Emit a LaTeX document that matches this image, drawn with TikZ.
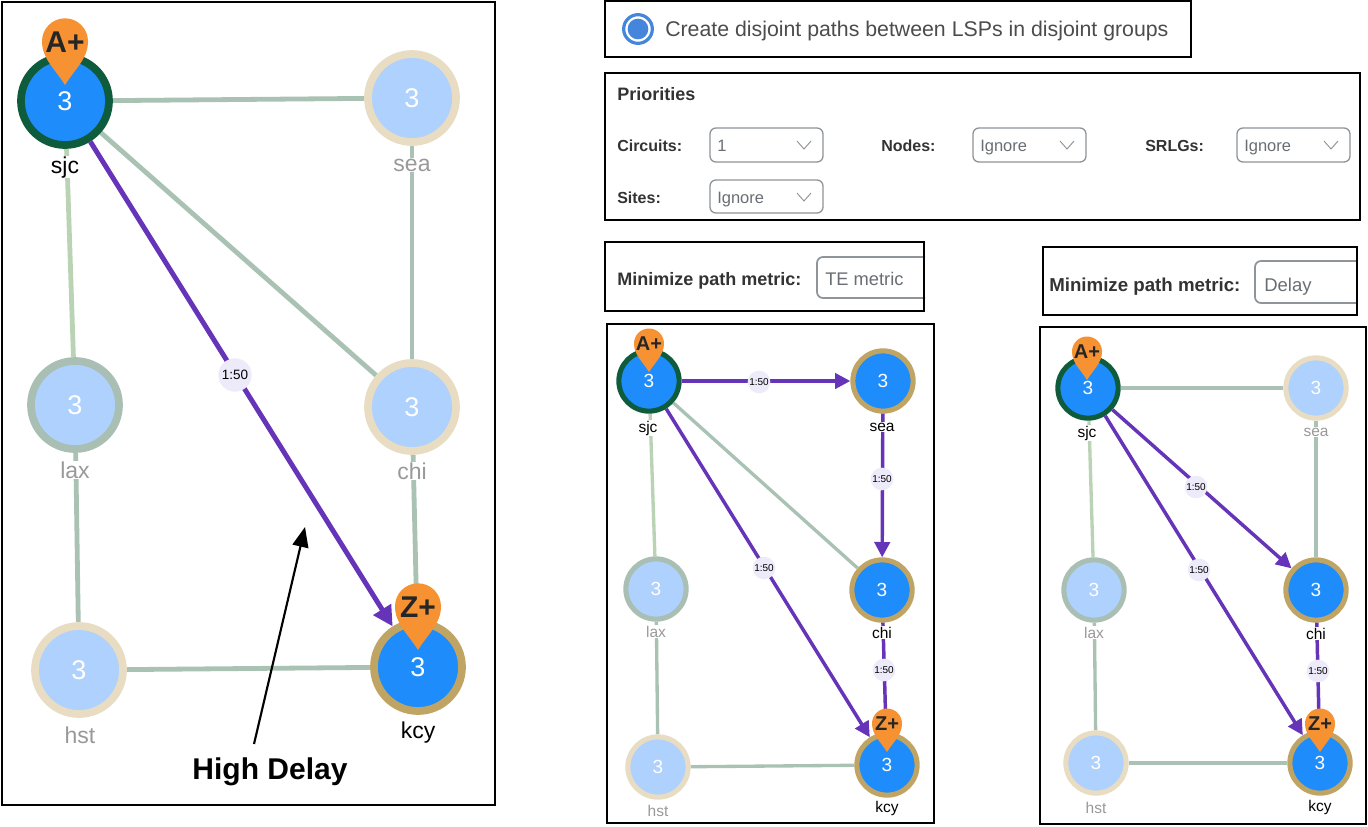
\documentclass[tikz,border=0pt]{standalone}
\usepackage{fontspec}
\setmainfont{Liberation Sans}
\usetikzlibrary{arrows.meta,backgrounds,calc}
\definecolor{hub}{HTML}{1E8CFB}
\definecolor{pale}{HTML}{AFD1FD}
\definecolor{ringg}{HTML}{0F5C3C}
\definecolor{ringt}{HTML}{C0A463}
\definecolor{ringb}{HTML}{E8DDC3}
\definecolor{ringl}{HTML}{A9BFB3}
\definecolor{linkc}{HTML}{A9C2B4}
\definecolor{linkl}{HTML}{BAD3B5}
\definecolor{lsp}{HTML}{6534B8}
\definecolor{pinc}{HTML}{F79232}
\definecolor{badge}{HTML}{EDEBFA}
\definecolor{uitext}{HTML}{6A6E74}
\definecolor{uiline}{HTML}{8F9499}
\definecolor{radio}{HTML}{4585DC}
\newcommand{\fpx}[1]{\fontsize{\dimexpr#1pt*3/4\relax}{\dimexpr#1pt*9/10\relax}\selectfont}
\tikzset{
  x=0.75pt,y=-0.75pt,
  frame/.style={draw=black,line width=1.5pt,fill=none},
  bigr/.style={circle,minimum size=66pt,line width=5.8pt,inner sep=0pt,text=white,font=\fpx{27}},
  smallr/.style={circle,minimum size=45.2pt,line width=3.8pt,inner sep=0pt,text=white,font=\fpx{19}},
  act/.style={fill=hub},
  fad/.style={fill=pale},
  biglab/.style={font=\fpx{23},inner sep=0.5pt,fill=white,anchor=base},
  smalllab/.style={font=\fpx{15.5},inner sep=0.5pt,fill=white,anchor=base},
  dim/.style={text=black!40},
  bigl/.style={line width=3.6pt,draw=linkc},
  smalll/.style={line width=2.5pt,draw=linkc},
  biga/.style={line width=3.7pt,draw=lsp,-{Triangle[length=15pt,width=15pt,fill=lsp]}},
  smalla/.style={line width=2.6pt,draw=lsp,-{Triangle[length=11.5pt,width=11.5pt,fill=lsp]}},
  bigb/.style={circle,fill=badge,inner sep=0pt,minimum size=25pt,font=\fpx{13.5}},
  smallb/.style={circle,fill=badge,inner sep=0pt,minimum size=17pt,font=\fpx{10}},
  uibold/.style={anchor=base west,inner sep=0pt,font=\bfseries\fpx{16},text=black!80},
  uival/.style={anchor=base west,inner sep=0pt,font=\fpx{16.5},text=uitext},
  drop/.style={draw=uiline,line width=1pt,rounded corners=4.5pt},
  chev/.style={draw=uiline,line width=0.7pt},
}
% pin: name, x, y of tip, radius, text, font size
\newcommand{\pin}[6]{%
  \fill[pinc] (#2,#3) .. controls (#2-0.45*#4,#3-0.72*#4) and (#2-#4,#3-1.15*#4) .. (#2-#4,#3-1.9*#4)
     arc[start angle=180,end angle=0,radius=#4*0.75pt]
     .. controls (#2+#4,#3-1.15*#4) and (#2+0.45*#4,#3-0.72*#4) .. (#2,#3) -- cycle;
  \node[inner sep=0pt,text=black!85,font=\bfseries\fpx{#6}] (#1) at (#2,#3-1.87*#4) {#5};
}
% chevron centred at x,y
\newcommand{\chevron}[2]{\draw[chev] (#1-7,#2-4) -- (#1,#2+4) -- (#1+7,#2-4);}
\begin{document}
\begin{tikzpicture}
\useasboundingbox (0,0) rectangle (1368,826);
\begin{scope}[on background layer]
  \fill[white] (0,0) rectangle (1368,826);
\end{scope}

% ---------- panel 1
\node[bigr,act,draw=ringg] (as) at (65,101) {3};
\node[bigr,fad,draw=ringb] (ae) at (412,98) {3};
\node[bigr,fad,draw=ringl] (al) at (75,405) {3};
\node[bigr,fad,draw=ringb] (ac) at (412,407) {3};
\node[bigr,fad,draw=ringb] (ah) at (79,670) {3};
\node[bigr,act,draw=ringt] (ak) at (418,667) {3};
\begin{scope}[on background layer]
  \draw[bigl] (as) -- (ae);
  \draw[bigl] (as) -- (ac);
  \draw[bigl,draw=linkl] (as) -- (al);
  \draw[bigl] (ae) -- (ac);
  \draw[bigl] (al) -- (ah);
  \draw[bigl] (ac) -- (ak);
  \draw[bigl] (ah) -- (ak);
\end{scope}
\draw[biga] (as) -- (ak);
\node[bigb] (ab) at (235,375) {1:50};
\node[biglab] (asl) at (65,173) {sjc};
\node[biglab,dim] (ael) at (412,171) {sea};
\node[biglab,dim] (all) at (75,478) {lax};
\node[biglab,dim] (acl) at (412,479) {chi};
\node[biglab,dim] (ahl) at (80,743) {hst};
\node[biglab] (akl) at (418,738) {kcy};
\pin{apa}{65}{85}{23}{A+}{30}
\pin{apz}{418}{650}{23}{Z+}{30}
\node[font=\bfseries\fpx{30}] (hd) at (270,772) {High Delay};
\coordinate (hdfrom) at (254,744);
\coordinate (hdto) at (305,527);
\draw[line width=1.6pt,-{Triangle[length=15pt,width=12pt]}] (hdfrom) -- (hdto);
\draw[frame] (2,2) rectangle (495,805);

% ---------- top widgets
\draw[frame] (605,1) rectangle (1191,57);
\node[circle,draw=radio,line width=2.4pt,fill=white,minimum size=21.5pt,inner sep=0pt] (rad) at (638,29) {};
\node[circle,fill=radio,minimum size=15.5pt,inner sep=0pt] (radi) at (rad) {};
\node[anchor=base west,inner sep=0pt,font=\fpx{21.3},text=black!70] (rt) at (665,36) {Create disjoint paths between LSPs in disjoint groups};

\draw[frame] (605,73) rectangle (1360,220);
\node[uibold,font=\bfseries\fpx{18}] (pt) at (617,100) {Priorities};
\node[uibold] (lc) at (617,151) {Circuits:};
\node[uibold] (ln) at (881,151) {Nodes:};
\node[uibold] (lr) at (1145,151) {SRLGs:};
\node[uibold] (ls) at (617,203) {Sites:};
\draw[drop] (710,128) rectangle (823,162);
\draw[drop] (973,128) rectangle (1086,162);
\draw[drop] (1237,128) rectangle (1350,162);
\draw[drop] (710,180) rectangle (823,213);
\node[uival] (v1) at (717,151) {1};
\node[uival] (v2) at (980,151) {Ignore};
\node[uival] (v3) at (1244,151) {Ignore};
\node[uival] (v4) at (717,203) {Ignore};
\chevron{804}{145}
\chevron{1067}{145}
\chevron{1331}{145}
\chevron{804}{197}

\draw[drop,line width=1.3pt] (925,257) -- (817,257) -- (817,298) -- (925,298);
\node[uibold,font=\bfseries\fpx{18}] (m1) at (617,285) {Minimize path metric:};
\node[uival,font=\fpx{18.3}] (m1v) at (825,285) {TE metric};
\draw[frame] (605,242) rectangle (924,311);

\draw[drop,line width=1.3pt] (1357,261) -- (1255,261) -- (1255,303) -- (1357,303);
\node[uibold,font=\bfseries\fpx{18.7}] (m2) at (1049,291) {Minimize path metric:};
\node[uival,font=\fpx{18.5}] (m2v) at (1264,291) {Delay};
\draw[frame] (1043,247) rectangle (1357,315);

% ---------- panel 2
\node[smallr,act,draw=ringg] (bs) at (649,381) {3};
\node[smallr,act,draw=ringt] (be) at (883,381) {3};
\node[smallr,fad,draw=ringl] (bl) at (656,589) {3};
\node[smallr,act,draw=ringt] (bc) at (882,590) {3};
\node[smallr,fad,draw=ringb] (bh) at (658,767) {3};
\node[smallr,act,draw=ringt] (bk) at (887,765) {3};
\begin{scope}[on background layer]
  \draw[smalll] (bs) -- (bc);
  \draw[smalll,draw=linkl] (bs) -- (bl);
  \draw[smalll] (bl) -- (bh);
  \draw[smalll] (bh) -- (bk);
\end{scope}
\draw[smalla] (bs) -- (be);
\draw[smalla] (be) -- (bc);
\draw[smalla] (bc) -- (bk);
\draw[smalla] (bs) -- (bk);
\node[smallb] (bb1) at (759,382) {1:50};
\node[smallb] (bb2) at (882,479) {1:50};
\node[smallb] (bb3) at (884,670) {1:50};
\node[smallb] (bb4) at (764,568) {1:50};
\node[smalllab] (bsl) at (648,432) {sjc};
\node[smalllab] (bel) at (882,431) {sea};
\node[smalllab,dim] (bll) at (656,637) {lax};
\node[smalllab] (bcl) at (882,638) {chi};
\node[smalllab,dim] (bhl) at (658,816) {hst};
\node[smalllab] (bkl) at (887,812) {kcy};
\pin{bpa}{649}{372}{15}{A+}{20}
\pin{bpz}{887}{752}{15}{Z+}{20}
\draw[frame] (607,324) rectangle (934,823);

% ---------- panel 3
\node[smallr,act,draw=ringg] (cs) at (1088,388) {3};
\node[smallr,fad,draw=ringb] (ce) at (1316,388) {3};
\node[smallr,fad,draw=ringl] (cl) at (1094,590) {3};
\node[smallr,act,draw=ringt] (cc) at (1316,590) {3};
\node[smallr,fad,draw=ringb] (ch) at (1096,763) {3};
\node[smallr,act,draw=ringt] (ck) at (1320,763) {3};
\begin{scope}[on background layer]
  \draw[smalll] (cs) -- (ce);
  \draw[smalll] (ce) -- (cc);
  \draw[smalll,draw=linkl] (cs) -- (cl);
  \draw[smalll] (cl) -- (ch);
  \draw[smalll] (ch) -- (ck);
\end{scope}
\draw[smalla] (cs) -- (cc);
\draw[smalla] (cs) -- (ck);
\draw[smalla] (cc) -- (ck);
\node[smallb] (cb1) at (1196,487) {1:50};
\node[smallb] (cb2) at (1199,570) {1:50};
\node[smallb] (cb3) at (1318,671) {1:50};
\node[smalllab] (csl) at (1087,437) {sjc};
\node[smalllab,dim] (cel) at (1316,436) {sea};
\node[smalllab,dim] (cll) at (1094,638) {lax};
\node[smalllab] (ccl) at (1316,639) {chi};
\node[smalllab,dim] (chl) at (1096,813) {hst};
\node[smalllab] (ckl) at (1320,811) {kcy};
\pin{cpa}{1087}{380}{15}{A+}{20}
\pin{cpz}{1320}{752}{15}{Z+}{20}
\draw[frame] (1040,327) rectangle (1366,824);
\end{tikzpicture}
\end{document}
